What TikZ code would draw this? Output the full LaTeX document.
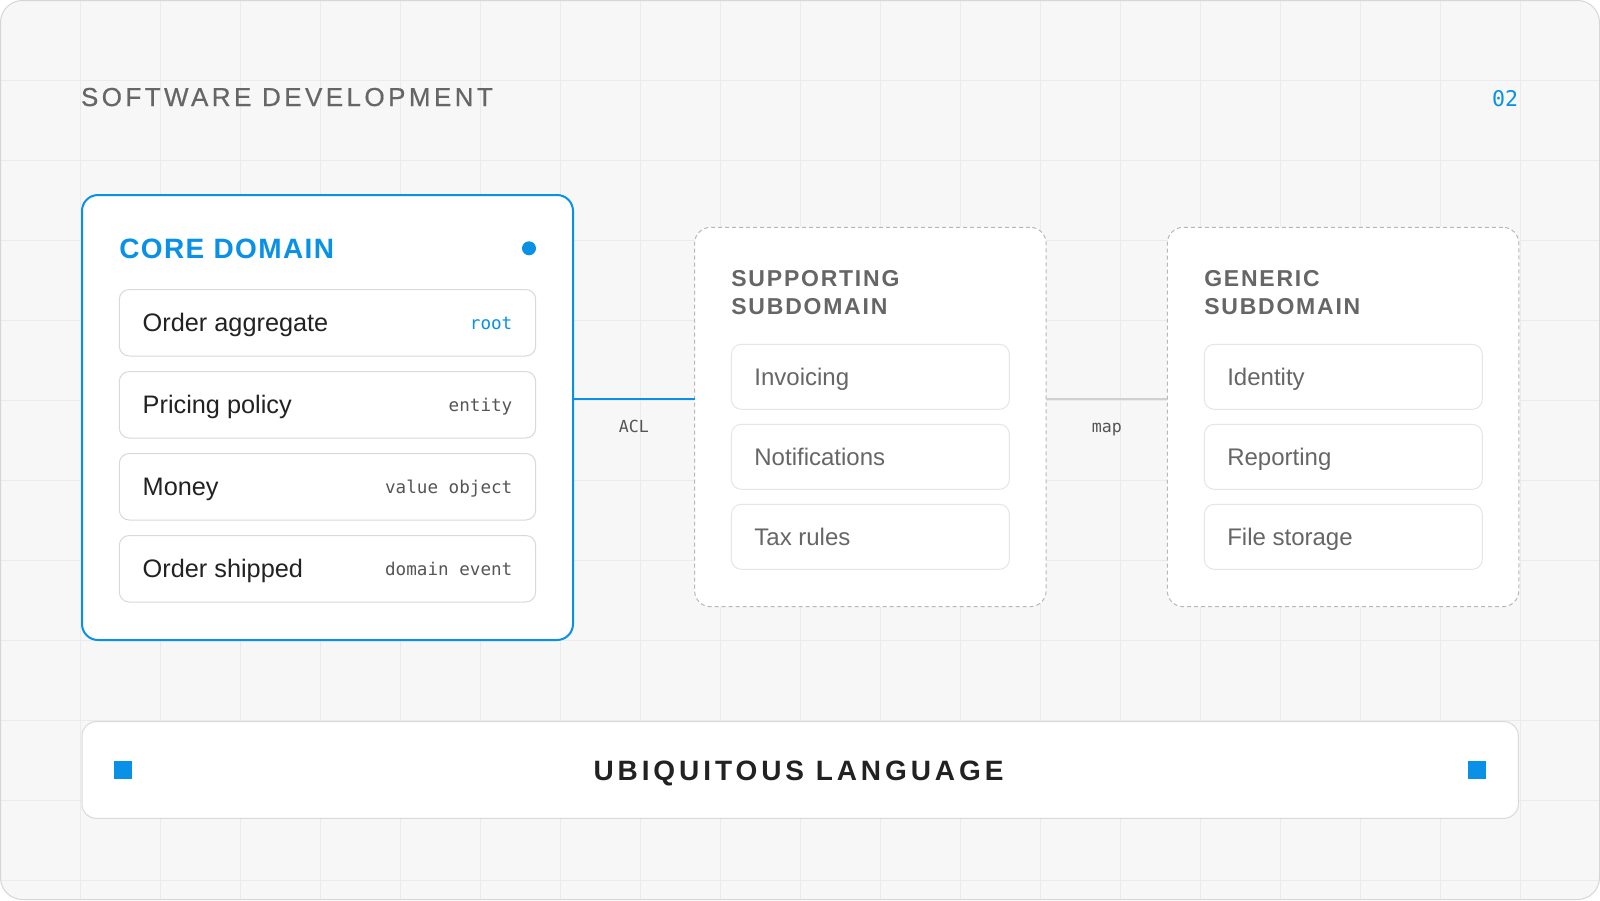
\documentclass[tikz,border=0pt]{standalone}
\usepackage{fontspec}
\setmainfont{Liberation Sans}
\newfontfamily\monof{DejaVu Sans Mono}
\newfontfamily\titlef[LetterSpace=13.2,FakeBold=0.6]{Liberation Sans}
\newfontfamily\coref[LetterSpace=5]{Liberation Sans}
\newfontfamily\subf[LetterSpace=7.7]{Liberation Sans}
\newfontfamily\ubif[LetterSpace=14]{Liberation Sans}
\definecolor{accent}{HTML}{0891E6}
\definecolor{bgc}{HTML}{F7F7F7}
\definecolor{gridc}{HTML}{EBEBEB}
\definecolor{framec}{HTML}{D6D6D6}
\definecolor{graytxt}{HTML}{666666}
\definecolor{darktxt}{HTML}{222222}
\definecolor{tagtxt}{HTML}{555555}
\definecolor{itembd}{HTML}{D9D9D9}
\definecolor{subitembd}{HTML}{E6E6E6}
\definecolor{dashc}{HTML}{B8B8B8}
\definecolor{mapc}{HTML}{D0D0D0}
\tikzset{
  every node/.style={inner sep=0pt, outer sep=0pt},
  gridline/.style={draw=gridc, line width=1pt},
  corebox/.style={draw=accent, line width=2pt, fill=white, rounded corners=16pt, anchor=north west},
  subbox/.style={draw=dashc, line width=1pt, dash pattern=on 4pt off 3pt, fill=white, rounded corners=16pt, anchor=north west, minimum width=351.5pt, minimum height=379.4pt},
  coreitem/.style={draw=itembd, line width=1pt, fill=white, rounded corners=10pt, anchor=north west, minimum width=416.4pt, minimum height=66.5pt},
  subitem/.style={draw=subitembd, line width=1pt, fill=white, rounded corners=10pt, anchor=north west, minimum width=278pt, minimum height=65pt},
  coretxt/.style={anchor=base west, text=darktxt, font=\fontsize{25.3}{30}\selectfont},
  subtxt/.style={anchor=base west, text=graytxt, font=\fontsize{24}{29}\selectfont},
  tagtext/.style={anchor=base east, text=tagtxt, font=\monof\fontsize{17.6}{21}\selectfont},
  lbl/.style={anchor=base, text=tagtxt, font=\monof\fontsize{16.6}{20}\selectfont},
  subtitle/.style={anchor=base west, text=graytxt, font=\subf\bfseries\fontsize{23}{28}\selectfont, align=left},
  aclline/.style={draw=accent, line width=2pt},
  mapline/.style={draw=mapc, line width=2pt},
  sq/.style={fill=accent, minimum width=18pt, minimum height=18pt}
}
\begin{document}
\begin{tikzpicture}[x=1pt,y=-1pt]
\useasboundingbox (0,0) rectangle (1600,900);
\fill[white] (0,0) rectangle (1600,900);
% frame
\node[fill=bgc, rounded corners=22pt, anchor=north west, minimum width=1599pt, minimum height=899pt] (frame) at (0.5,0.5) {};
\begin{scope}
  \clip[rounded corners=22pt] (frame.north west) rectangle (frame.south east);
  \foreach \i in {1,...,19} \draw[gridline] (80*\i,0) -- (80*\i,900);
  \foreach \j in {1,...,11} \draw[gridline] (0,80*\j) -- (1600,80*\j);
\end{scope}
\draw[draw=framec, line width=1pt, rounded corners=22pt] (frame.north west) rectangle (frame.south east);

% header
\node[anchor=base west, text=graytxt, font=\titlef\fontsize{26}{31}\selectfont] (title) at (81,106) {SOFTWARE DEVELOPMENT};
\node[anchor=base east, text=accent, font=\monof\fontsize{21.6}{26}\selectfont] (pagenum) at (1518,106) {02};

% core domain
\node[corebox, minimum width=491pt, minimum height=445pt] (core) at (82,195) {};
\node[anchor=base west, text=accent, font=\coref\bfseries\fontsize{28}{33}\selectfont] (coretitle) at (119.3,258.3) {CORE DOMAIN};
\node[circle, fill=accent, minimum size=14pt] (coredot) at (529,248.3) {};

\node[coreitem] (c1) at (119.3,289.5) {};
\node[coreitem] (c2) at (119.3,371.5) {};
\node[coreitem] (c3) at (119.3,453.5) {};
\node[coreitem] (c4) at (119.3,535.5) {};
\node[coretxt] (c1t) at ([xshift=23.4pt, yshift=-9pt]c1.west) {Order aggregate};
\node[coretxt] (c2t) at ([xshift=23.4pt, yshift=-9pt]c2.west) {Pricing policy};
\node[coretxt] (c3t) at ([xshift=23.4pt, yshift=-9pt]c3.west) {Money};
\node[coretxt] (c4t) at ([xshift=23.4pt, yshift=-9pt]c4.west) {Order shipped};
\node[tagtext, text=accent] (c1g) at ([xshift=-23.4pt, yshift=-7pt]c1.east) {root};
\node[tagtext] (c2g) at ([xshift=-23.4pt, yshift=-7pt]c2.east) {entity};
\node[tagtext] (c3g) at ([xshift=-23.4pt, yshift=-7pt]c3.east) {value object};
\node[tagtext] (c4g) at ([xshift=-23.4pt, yshift=-7pt]c4.east) {domain event};

% supporting subdomain
\node[subbox] (sup) at (694.6,227.3) {};
\node[subtitle] (suptitle) at (731.4,286) {SUPPORTING};
\node[subtitle] (suptitle2) at (731.4,314) {SUBDOMAIN};
\node[subitem] (s1) at (731.4,344.3) {};
\node[subitem] (s2) at (731.4,424.3) {};
\node[subitem] (s3) at (731.4,504.3) {};
\node[subtxt] (s1t) at ([xshift=23pt, yshift=-8.4pt]s1.west) {Invoicing};
\node[subtxt] (s2t) at ([xshift=23pt, yshift=-8.4pt]s2.west) {Notifications};
\node[subtxt] (s3t) at ([xshift=23pt, yshift=-8.4pt]s3.west) {Tax rules};

% generic subdomain
\node[subbox] (gen) at (1167.3,227.3) {};
\node[subtitle] (gentitle) at (1204.3,286) {GENERIC};
\node[subtitle] (gentitle2) at (1204.3,314) {SUBDOMAIN};
\node[subitem] (g1) at (1204.3,344.3) {};
\node[subitem] (g2) at (1204.3,424.3) {};
\node[subitem] (g3) at (1204.3,504.3) {};
\node[subtxt] (g1t) at ([xshift=23pt, yshift=-8.4pt]g1.west) {Identity};
\node[subtxt] (g2t) at ([xshift=23pt, yshift=-8.4pt]g2.west) {Reporting};
\node[subtxt] (g3t) at ([xshift=23pt, yshift=-8.4pt]g3.west) {File storage};

% connectors
\draw[aclline] ([yshift=18.5pt]core.east) -- ([yshift=18.5pt]core.east -| sup.west);
\draw[mapline] ([yshift=18pt]sup.east) -- ([yshift=18pt]sup.east -| gen.west);
\node[lbl] (acl) at (633.8,432) {ACL};
\node[lbl] (map) at (1106.8,432) {map};

% ubiquitous language bar
\node[draw=itembd, line width=1pt, fill=white, rounded corners=14pt, anchor=north west, minimum width=1436.3pt, minimum height=96.6pt] (bar) at (82,721.7) {};
\node[sq] (sqL) at (123,770) {};
\node[sq] (sqR) at (1477,770) {};
\node[anchor=base, text=darktxt, font=\ubif\bfseries\fontsize{28}{33}\selectfont] (ubi) at (798.5,780.5) {UBIQUITOUS LANGUAGE};
\end{tikzpicture}
\end{document}
